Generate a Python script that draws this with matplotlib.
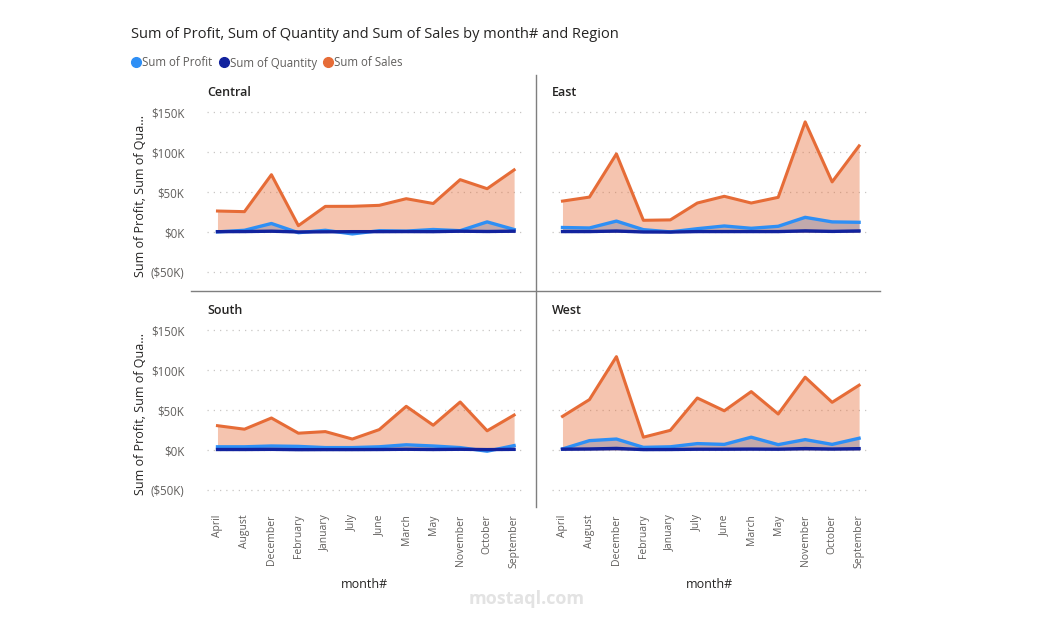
import matplotlib
matplotlib.use("Agg")
import matplotlib.pyplot as plt
from matplotlib.lines import Line2D
from matplotlib.ticker import FuncFormatter

plt.rcParams['font.family'] = ['Open Sans', 'DejaVu Sans']

months = ["April", "August", "December", "February", "January", "July",
          "June", "March", "May", "November", "October", "September"]
regions = ["Central", "East", "South", "West"]

sales = {
    "Central": [26.6, 25.8, 72.0, 8.3, 32.4, 32.5, 33.7, 42.0, 36.0, 65.8, 54.5, 78.0],
    "East":    [39.0, 44.0, 98.0, 15.0, 15.5, 36.6, 45.0, 36.6, 43.7, 138.0, 63.0, 108.0],
    "South":   [30.4, 26.0, 40.0, 21.0, 23.0, 13.7, 25.5, 54.6, 31.0, 60.0, 24.0, 43.7],
    "West":    [42.0, 63.0, 116.7, 16.0, 24.6, 65.0, 49.0, 73.0, 45.0, 91.0, 59.6, 81.0],
}
profit = {
    "Central": [0.5, 2.5, 11.0, -0.5, 2.5, -2.0, 2.0, 1.5, 3.5, 2.0, 13.0, 3.5],
    "East":    [6.0, 5.4, 14.0, 3.3, 0.5, 4.5, 7.9, 5.0, 7.5, 18.7, 13.0, 12.5],
    "South":   [4.0, 4.0, 5.0, 4.5, 3.0, 3.0, 4.0, 6.5, 5.0, 3.0, -1.5, 5.5],
    "West":    [1.3, 11.7, 13.7, 3.3, 4.0, 8.0, 7.0, 16.0, 6.7, 13.0, 7.0, 14.7],
}
quantity = {
    "Central": [0.8, 0.9, 1.4, 0.4, 0.6, 0.8, 0.8, 0.9, 0.8, 1.4, 1.0, 1.4],
    "East":    [0.9, 0.9, 1.6, 0.4, 0.3, 0.9, 0.9, 0.9, 0.9, 1.8, 1.1, 1.7],
    "South":   [0.6, 0.6, 0.8, 0.4, 0.5, 0.5, 0.6, 0.9, 0.6, 0.9, 0.5, 0.8],
    "West":    [1.0, 1.3, 2.0, 0.5, 0.6, 1.0, 1.0, 1.2, 1.0, 1.8, 1.2, 1.7],
}
yticks = [-50, 0, 50, 100, 150]

C_PROFIT = "#2E8FF5"
C_QTY = "#12239E"
C_SALES = "#E66C37"
GRAY = "#605E5C"
DARK = "#252423"

W, H = 1057, 622
fig = plt.figure(figsize=(W / 100, H / 100), dpi=100)

def px_rect(x0, x1, ytop, ybot):
    return [x0 / W, 1 - ybot / H, (x1 - x0) / W, (ybot - ytop) / H]

zero_y = {"Central": 232.3, "East": 232.3, "South": 450.0, "West": 450.0}
title_y = {"Central": 93, "East": 93, "South": 311, "West": 311}
xspan = {"Central": (206.7, 523.0), "East": (551.7, 868.0),
         "South": (206.7, 523.0), "West": (551.7, 868.0)}
YMAX, YMIN = 160, -70

def fmt(v, pos):
    v = int(round(v))
    if v < 0:
        return "(${}K)".format(-v)
    return "${}K".format(v)

x = list(range(len(months)))
for r in regions:
    z = zero_y[r]
    x0, x1 = xspan[r]
    ax = fig.add_axes(px_rect(x0, x1, z - YMAX * 0.8, z - YMIN * 0.8))
    ax.set_xlim(-0.4, 11.33)
    ax.set_ylim(YMIN, YMAX)
    for s in ax.spines.values():
        s.set_visible(False)
    ax.set_yticks(yticks)
    ax.yaxis.grid(True, linestyle=(0, (1, 4)), color="#C8C6C4", linewidth=0.9)
    ax.set_axisbelow(True)
    ax.tick_params(axis="both", length=0)
    left_col = r in ("Central", "South")
    bottom_row = r in ("South", "West")
    if left_col:
        ax.yaxis.set_major_formatter(FuncFormatter(fmt))
        ax.tick_params(axis="y", labelsize=8.3, labelcolor=GRAY, pad=16)
        ax.set_ylabel("Sum of Profit, Sum of Qua...", fontsize=9, color=DARK, labelpad=3)
    else:
        ax.set_yticklabels([])
    ax.set_xticks(x)
    if bottom_row:
        ax.set_xticklabels(months, rotation=90, fontsize=7.5, color=GRAY)
        ax.tick_params(axis="x", pad=6)
        ax.set_xlabel("month#", fontsize=9, color=DARK, labelpad=7)
    else:
        ax.set_xticklabels([])

    ax.fill_between(x, profit[r], 0, color=C_PROFIT, alpha=0.4, linewidth=0)
    ax.fill_between(x, quantity[r], 0, color=C_QTY, alpha=0.4, linewidth=0)
    ax.fill_between(x, sales[r], 0, color=C_SALES, alpha=0.4, linewidth=0)
    ax.plot(x, sales[r], color=C_SALES, lw=2.2, solid_joinstyle="round")
    ax.plot(x, profit[r], color=C_PROFIT, lw=2.4, solid_joinstyle="round")
    ax.plot(x, quantity[r], color=C_QTY, lw=2.4, solid_joinstyle="round")
    fig.text((x0 + 0.3) / W, 1 - title_y[r] / H, r, fontsize=9, color=DARK,
             fontweight="semibold", va="center", ha="left")

# separators
fig.add_artist(Line2D([536 / W, 536 / W], [1 - 75 / H, 1 - 507 / H], color="#7F7F7F", lw=1))
fig.add_artist(Line2D([191 / W, 880 / W], [1 - 291 / H, 1 - 291 / H], color="#7F7F7F", lw=1))

# title
fig.text(131 / W, 1 - 34 / H,
         "Sum of Profit, Sum of Quantity and Sum of Sales by month# and Region",
         fontsize=10.5, color=DARK, va="center", ha="left")

# legend
lx = [136, 224, 328]
labels = ["Sum of Profit", "Sum of Quantity", "Sum of Sales"]
cols = [C_PROFIT, C_QTY, C_SALES]
for px, lab, c in zip(lx, labels, cols):
    fig.add_artist(Line2D([px / W], [1 - 62 / H], marker="o", markersize=7,
                          color=c, linestyle="none"))
    fig.text((px + 6) / W, 1 - 63 / H, lab, fontsize=8.3, color=GRAY,
             va="center", ha="left")

# watermark
fig.text(527 / W, 1 - 599 / H, "mostaql.com", fontsize=13, color="#E3E3E3",
         ha="center", va="center", fontweight="bold")

fig.savefig("out.png", dpi=100)
